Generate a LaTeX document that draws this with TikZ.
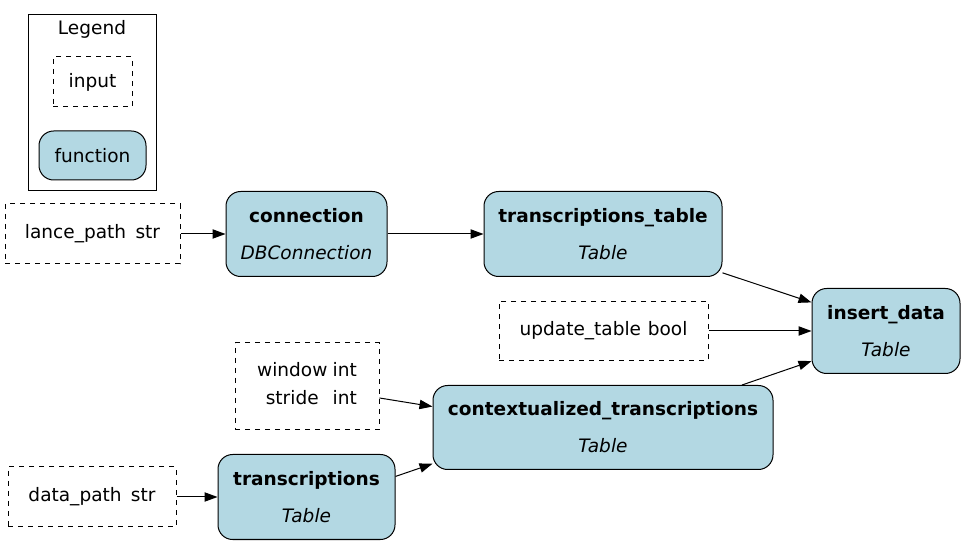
\documentclass[tikz,border=0pt]{standalone}
\usepackage{fontspec}
\setmainfont{DejaVu Sans}
\usepackage{tikz}
\usetikzlibrary{arrows.meta}

\definecolor{fnblue}{HTML}{B3D8E3}

\begin{document}
\begin{tikzpicture}[x=0.75pt, y=-0.75pt,
    every node/.style={font=\fontsize{13.9}{16.5}\selectfont, inner sep=0pt},
    inbox/.style={draw, dashed, dash pattern=on 3.75pt off 3.75pt, line width=0.75pt, align=center},
    fnbox/.style={draw, fill=fnblue, rounded corners=11pt, line width=0.75pt, align=center},
    flow/.style={-{Triangle[length=9.75pt, width=7pt]}, line width=0.75pt}]

\useasboundingbox (0,0) rectangle (965,545);

% legend
\node [draw, line width=0.75pt, minimum width=96pt, minimum height=132pt] (legend) at (92,103) {};
\node (legendtitle) at (92,29) {Legend};
\node [inbox, minimum width=59.25pt, minimum height=37.5pt] (inlegend) at (92.5,82) {input};
\node [fnbox, minimum width=80.25pt, minimum height=36.75pt] (fnlegend) at (92.5,155.5) {function};

% inputs
\node [inbox, minimum width=131.25pt, minimum height=45pt] (lpath) at (92.5,234) {lance\_path\hspace{7pt}str};
\node [inbox, minimum width=156.75pt, minimum height=44.25pt] (upd) at (603.5,331) {update\_table\hspace{5pt}bool};
\node [inbox, minimum width=108pt, minimum height=65.25pt] (win) at (307,386.5)
    {\begin{tabular}{@{}c@{\hspace{4pt}}l@{}}window & int\\[4.5pt] stride & int\end{tabular}};
\node [inbox, minimum width=126pt, minimum height=45pt] (dpath) at (92,497) {data\_path\hspace{7pt}str};

% functions
\node [fnbox, minimum width=120.75pt, minimum height=63.75pt] (conn) at (306.5,234)
    {\textbf{connection}\\[11.25pt]\textit{DBConnection}};
\node [fnbox, minimum width=178.5pt, minimum height=63.75pt] (ttable) at (603,234)
    {\textbf{transcriptions\_table}\\[11.25pt]\textit{Table}};
\node [fnbox, minimum width=111pt, minimum height=63.75pt] (ins) at (886,331)
    {\textbf{insert\_data}\\[11.25pt]\textit{Table}};
\node [fnbox, minimum width=255pt, minimum height=63pt] (ctx) at (603,427.5)
    {\textbf{contextualized\_transcriptions}\\[11.25pt]\textit{Table}};
\node [fnbox, minimum width=132.75pt, minimum height=63.75pt] (trans) at (306.5,497)
    {\textbf{transcriptions}\\[11.25pt]\textit{Table}};

% edges
\draw [flow] (lpath.east) -- (conn.west);
\draw [flow] (conn.east) -- (ttable.west);
\draw [flow] (ttable.-18) -- (ins.159);
\draw [flow] (upd.east) -- (ins.west);
\draw [flow] (ctx.17) -- (ins.202);
\draw [flow] (win.-9) -- (ctx.173);
\draw [flow] (trans.13) -- (ctx.192);
\draw [flow] (dpath.east) -- (trans.west);

\end{tikzpicture}
\end{document}
